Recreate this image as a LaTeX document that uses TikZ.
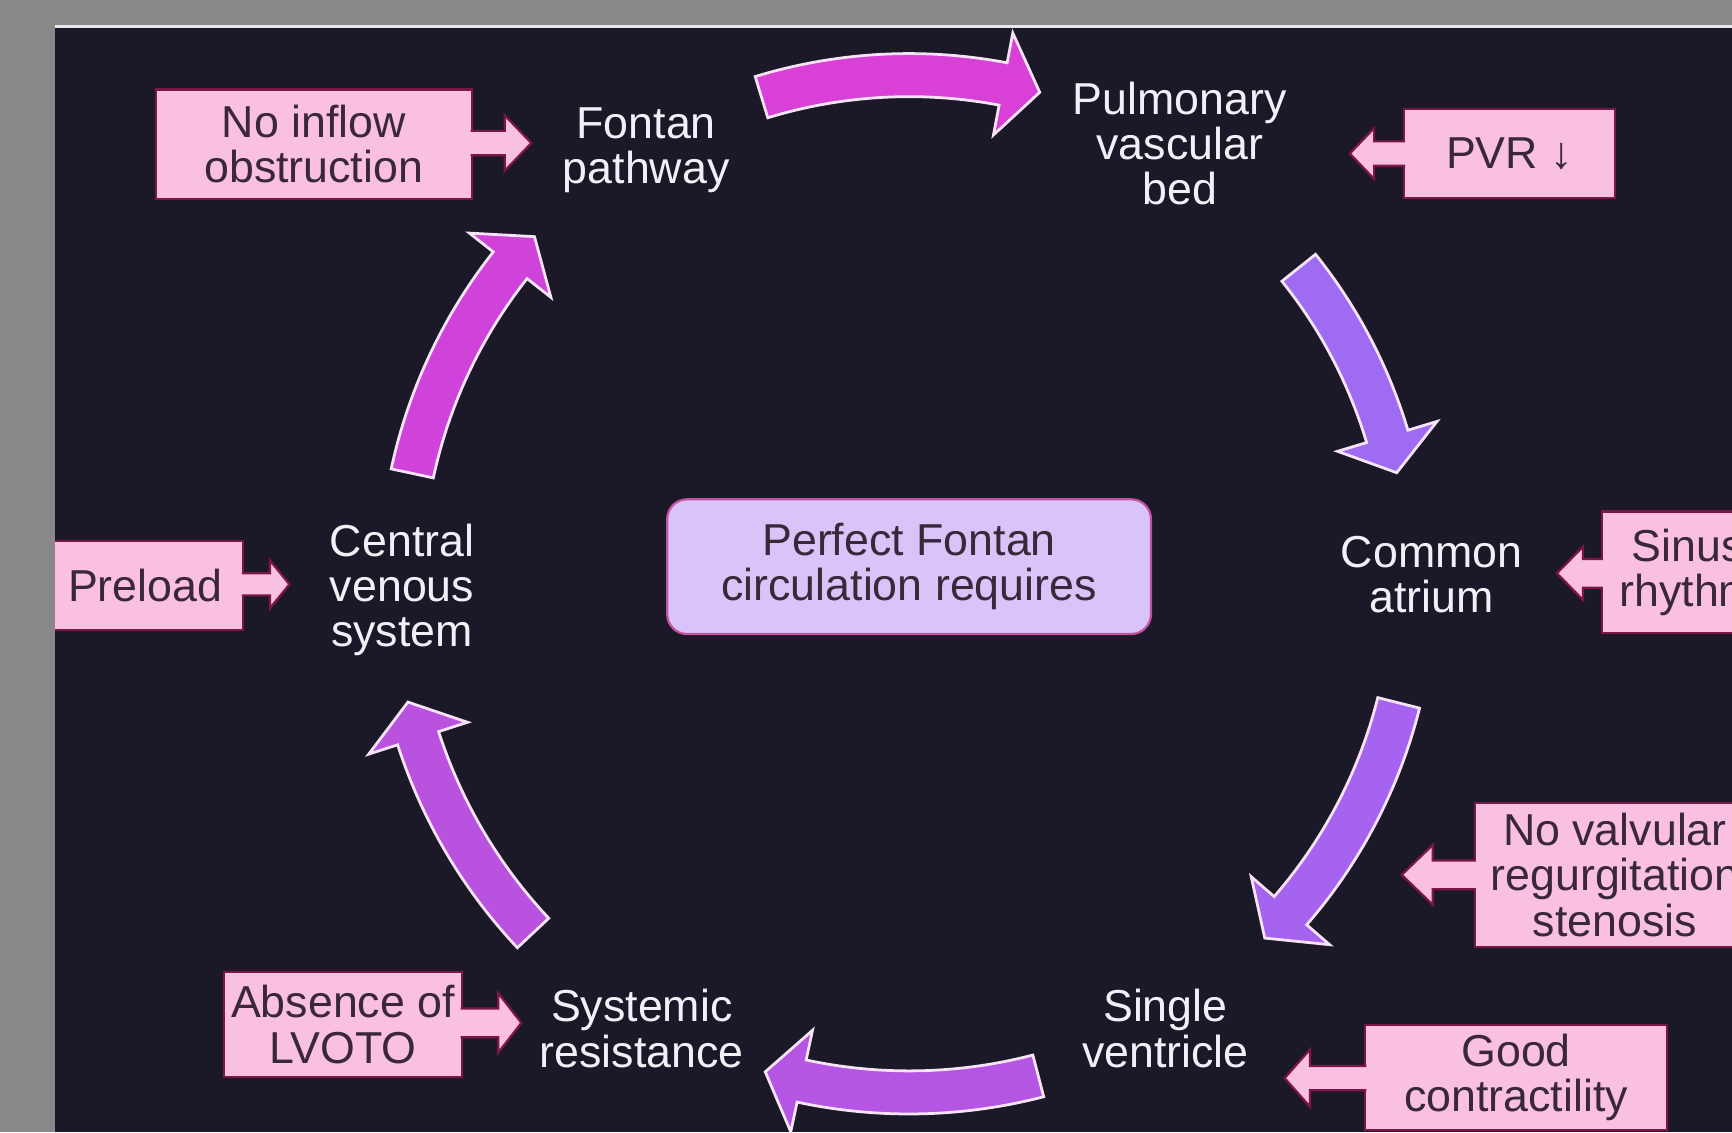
\documentclass[tikz,border=0pt]{standalone}
\usepackage{fontspec}
\setmainfont{Liberation Sans}
\usetikzlibrary{calc}
\definecolor{graybg}{RGB}{136,136,136}
\definecolor{panel}{RGB}{27,25,40}
\definecolor{topline}{RGB}{232,232,236}
\definecolor{pinkfill}{RGB}{249,192,226}
\definecolor{pinkborder}{RGB}{125,22,72}
\definecolor{darktext}{RGB}{58,40,58}
\definecolor{lavfill}{RGB}{216,196,248}
\definecolor{lavborder}{RGB}{196,80,160}
\definecolor{arrowline}{RGB}{246,228,246}
\definecolor{stagewhite}{RGB}{242,240,246}
\definecolor{aone}{RGB}{217,64,214}
\definecolor{atwo}{RGB}{158,107,242}
\definecolor{athree}{RGB}{165,99,239}
\definecolor{afour}{RGB}{180,85,228}
\definecolor{afive}{RGB}{186,82,224}
\definecolor{asix}{RGB}{207,67,218}
\tikzset{
  every node/.style={font=\fontsize{40.5}{41}\selectfont, align=center, inner sep=0pt, outer sep=0pt},
  stagetext/.style={text=stagewhite},
  pinkbox/.style={fill=pinkfill, draw=pinkborder, line width=2pt, text=darktext},
  centrebox/.style={fill=lavfill, draw=lavborder, line width=2pt, rounded corners=18pt, minimum width=438pt, minimum height=122pt, text=darktext},
  tabsty/.style={fill=pinkfill, draw=pinkborder, line width=2pt, line join=miter},
  arrowsty/.style={draw=arrowline, line width=2.5pt, line join=miter},
}
\newcommand{\fonttabR}[6]{%
  \filldraw[tabsty] ($(#1.east)+(-1,#2+#5)$) -- ++(#3+1,0) -- ++(0,#6-#5) -- ++(#4,-#6) -- ++(-#4,-#6) -- ++(0,#6-#5) -- ++(-#3-1,0);}
\newcommand{\fonttabL}[6]{%
  \filldraw[tabsty] ($(#1.west)+(1,#2+#5)$) -- ++(-#3-1,0) -- ++(0,#6-#5) -- ++(-#4,-#6) -- ++(#4,-#6) -- ++(0,#6-#5) -- ++(#3+1,0);}
\newcommand{\cyclearr}[4]{%
  \pgfmathsetmacro{\cyab}{#3+34/#4*57.29578}%
  \pgfmathsetmacro{\cyro}{#4+19.5}%
  \pgfmathsetmacro{\cyri}{#4-19.5}%
  \pgfmathsetmacro{\cyho}{#4+47}%
  \pgfmathsetmacro{\cyhi}{#4-47}%
  \filldraw[arrowsty, fill=#1] ($(C)+(#2:\cyro pt)$) arc[start angle=#2, end angle=\cyab, radius=\cyro pt] -- ($(C)+(\cyab:\cyho pt)$) -- ($(C)+(#3:#4pt)$) -- ($(C)+(\cyab:\cyhi pt)$) -- ($(C)+(\cyab:\cyri pt)$) arc[start angle=\cyab, end angle=#2, radius=\cyri pt] -- cycle;}
\begin{document}
\begin{tikzpicture}[x=1pt,y=1pt]
\useasboundingbox (0,0) rectangle (1568,-1025);
\fill[graybg] (0,0) rectangle (1568,-1025);
\fill[topline] (50,-22.6) rectangle (1568,-25.6);
\fill[panel] (50,-25.6) rectangle (1568,-1025);
\begin{scope}
\clip (50,-25.6) rectangle (1568,-1025);
\coordinate (C) at (823,-525);
% cycle arrows
\cyclearr{aone}{107}{75}{457}
\cyclearr{atwo}{38.7}{12.4}{452}
\cyclearr{athree}{-14.1}{-45.2}{457}
\cyclearr{afour}{-75.4}{-106.3}{464}
\cyclearr{afive}{-136.8}{-166.3}{467}
\cyclearr{asix}{167.9}{137.5}{460}
% stages
\node[stagetext] (fontan) at (585,-136) {Fontan\\pathway};
\node[stagetext] (pulm) at (1068,-130) {Pulmonary\\vascular\\bed};
\node[stagetext] (atrium) at (1296,-520) {Common\\atrium};
\node[stagetext] (ventricle) at (1055,-931) {Single\\ventricle};
\node[stagetext] (systemic) at (581,-931) {Systemic\\resistance};
\node[stagetext] (venous) at (364,-534) {Central\\venous\\system};
\node[centrebox] (perfect) at (823,-513) {Perfect Fontan\\circulation requires};
% requirement boxes
\node[pinkbox, minimum width=286pt, minimum height=99pt] (inflow) at (284,-130.5) {No inflow\\obstruction};
\node[pinkbox, minimum width=191pt, minimum height=80pt] (pvr) at (1366.5,-139) {PVR ↓};
\node[pinkbox, minimum width=156pt, minimum height=110pt] (sinus) at (1528,-518) {Sinus\\rhythm};
\node[pinkbox, minimum width=254pt, minimum height=130pt] (valv) at (1462,-792) {No valvular\\regurgitation\\stenosis};
\node[pinkbox, minimum width=273pt, minimum height=95pt] (contr) at (1372.5,-975.5) {Good\\contractility};
\node[pinkbox, minimum width=177pt, minimum height=80pt] (preload) at (131.5,-530) {Preload};
\node[pinkbox, minimum width=215pt, minimum height=95pt] (lvoto) at (310.5,-927.5) {Absence of\\LVOTO};
% tabs
\fonttabR{inflow}{1}{30}{24}{11}{25}
\fonttabL{pvr}{0}{27}{22}{11}{23}
\fonttabL{sinus}{-1}{17}{23.5}{13}{24}
\fonttabL{valv}{0}{38}{28}{13}{27}
\fonttabL{contr}{-0.5}{50}{23}{11}{26}
\fonttabR{preload}{1}{24.5}{17.5}{10}{21.5}
\fonttabR{lvoto}{1.5}{33}{21}{13}{27}
\end{scope}
\end{tikzpicture}
\end{document}
